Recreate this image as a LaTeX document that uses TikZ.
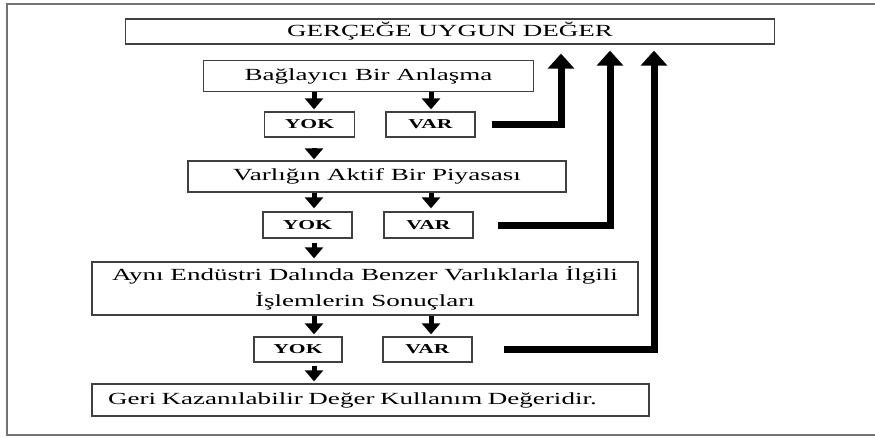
\documentclass[tikz,border=0pt]{standalone}
\usepackage{fontspec}
\setmainfont[FakeStretch=1.59]{Liberation Serif}
\usetikzlibrary{arrows.meta}
\begin{document}
\begin{tikzpicture}[x=1pt,y=-1pt,
  box/.style={draw=black!75, line width=1.3pt, inner sep=0pt, text=black,
    font=\fontsize{17}{20}\selectfont},
  yv/.style={box, font=\fontsize{13.6}{15}\selectfont\bfseries},
  sarr/.style={line width=5pt, -{Triangle[width=18pt,length=11pt]}},
  barr/.style={line width=7pt, line join=miter, -{Triangle[width=26pt,length=15pt]}},
  frame/.style={draw=black!55, line width=2pt}]
\useasboundingbox (0,0) rectangle (875,437);
\draw[frame] (876,3.5) -- (7,3.5) -- (7,434.5) -- (876,434.5);

\node[box, minimum width=649pt, minimum height=25pt] (title) at (450,31.5) {GERÇEĞE UYGUN DEĞER};
\node[box, minimum width=330pt, minimum height=31pt] (b1) at (368.5,76) {Bağlayıcı Bir Anlaşma};
\node[yv, minimum width=90pt, minimum height=25pt] (yok1) at (309.5,124.5) {YOK};
\node[yv, minimum width=89pt, minimum height=25pt] (var1) at (430.5,124.5) {VAR};
\node[box, minimum width=378pt, minimum height=31pt] (b2) at (377,176.5) {Varlığın Aktif Bir Piyasası};
\node[yv, minimum width=89pt, minimum height=26pt] (yok2) at (307.5,225) {YOK};
\node[yv, minimum width=89pt, minimum height=26pt] (var2) at (428.5,225) {VAR};
\node[box, minimum width=546pt, minimum height=53pt, align=center,
  font=\fontsize{17}{26}\selectfont] (b3) at (365,288.5)
  {Aynı Endüstri Dalında Benzer Varlıklarla İlgili\\İşlemlerin Sonuçları};
\node[yv, minimum width=88pt, minimum height=25pt] (yok3) at (298,349.5) {YOK};
\node[yv, minimum width=89pt, minimum height=25pt] (var3) at (427.5,349.5) {VAR};
\node[box, text width=525pt, inner xsep=16pt, minimum height=32pt, align=left] (b4) at (370.5,400)
  {Geri Kazanılabilir Değer Kullanım Değeridir.};

\coordinate (ax) at (314,0);
\coordinate (bx) at (431,0);
\coordinate (u1) at (561,0);
\coordinate (u2) at (610,0);
\coordinate (u3) at (654,0);

\draw[sarr, shorten >=2pt] (b1.south -| ax) -- (yok1.north -| ax);
\draw[sarr, shorten >=2pt] (b1.south -| bx) -- (var1.north -| bx);
\draw[sarr, shorten <=10pt, shorten >=1pt] (yok1.south -| ax) -- (b2.north -| ax);
\draw[sarr, shorten >=3pt] (b2.south -| ax) -- (yok2.north -| ax);
\draw[sarr, shorten >=3pt] (b2.south -| bx) -- (var2.north -| bx);
\draw[sarr, shorten <=4pt, shorten >=3pt] (yok2.south -| ax) -- (b3.north -| ax);
\draw[sarr, shorten >=2pt] (b3.south -| ax) -- (yok3.north -| ax);
\draw[sarr, shorten >=2pt] (b3.south -| bx) -- (var3.north -| bx);
\draw[sarr, shorten <=3pt, shorten >=2pt] (yok3.south -| ax) -- (b4.north -| ax);

\draw[barr, shorten <=16pt, shorten >=9pt] (var1.east) -| (title.south -| u1);
\draw[barr, shorten <=24pt, shorten >=6pt] (var2.east) -| (title.south -| u2);
\draw[barr, shorten <=31pt, shorten >=6pt] (var3.east) -| (title.south -| u3);
\end{tikzpicture}
\end{document}
